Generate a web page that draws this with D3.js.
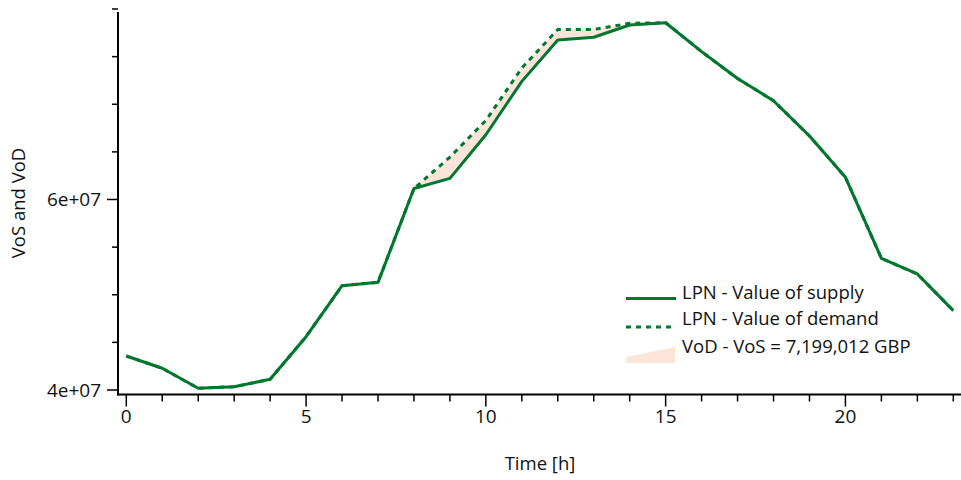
<!DOCTYPE html>
<html>
<head>
<meta charset="utf-8">
<script src="https://cdn.jsdelivr.net/npm/d3@7"></script>
<style>
  html, body { margin: 0; padding: 0; background: #fff; }
  svg { display: block; font-family: "Open Sans", "Noto Sans", sans-serif; }
</style>
</head>
<body>
<svg id="chart" width="961" height="480"></svg>
<script>
// Hourly values (GBP) for the LPN network
const hours = d3.range(0, 24);
const valueOfSupply = [
  43570000, 42280000, 40180000, 40350000, 41120000, 45600000,
  50950000, 51300000, 61150000, 62220000, 66800000, 72400000,
  76750000, 77030000, 78320000, 78560000, 75520000, 72700000,
  70370000, 66670000, 62330000, 53830000, 52180000, 48330000
];
const valueOfDemand = [
  43570000, 42280000, 40180000, 40350000, 41120000, 45600000,
  50950000, 51300000, 61150000, 64450000, 68300000, 73800000,
  77850000, 77850000, 78500000, 78560000, 75520000, 72700000,
  70370000, 66670000, 62330000, 53830000, 52180000, 48330000
];
const yTickValues = [40000000, 60000000];
const xTickValues = [0, 5, 10, 15, 20];
const legendLabels = [
  "LPN - Value of supply",
  "LPN - Value of demand",
  "VoD - VoS = 7,199,012 GBP"
];
const xTitle = "Time [h]";
const yTitle = "VoS and VoD";

const green = "#00772f";
const fillColor = "#fde4d8";

const svg = d3.select("#chart");

const x = d3.scaleLinear().domain([0, 23]).range([126.3, 953.3]);
const y = d3.scaleLinear().domain([40000000, 60000000]).range([390, 199.5]);

const axisLeft = 118, axisBottom = 394.5, axisTop = 12, axisRight = 961;

const supply = hours.map((h, i) => ({ h, v: valueOfSupply[i] }));
const demand = hours.map((h, i) => ({ h, v: valueOfDemand[i] }));

// Shaded gap between demand and supply
const gap = hours.map((h, i) => ({ h, lo: valueOfSupply[i], hi: valueOfDemand[i] }));
svg.append("path")
  .datum(gap)
  .attr("fill", fillColor)
  .attr("d", d3.area().x(d => x(d.h)).y0(d => y(d.lo)).y1(d => y(d.hi)));

const line = d3.line().x(d => x(d.h)).y(d => y(d.v));

svg.append("path")
  .datum(demand)
  .attr("fill", "none")
  .attr("stroke", green)
  .attr("stroke-width", 3)
  .attr("stroke-dasharray", "5,5")
  .attr("d", line);

svg.append("path")
  .datum(supply)
  .attr("fill", "none")
  .attr("stroke", green)
  .attr("stroke-width", 3)
  .attr("stroke-linejoin", "round")
  .attr("d", line);

// Axes
const axes = svg.append("g").attr("stroke", "#000").attr("stroke-width", 2);
axes.append("line").attr("x1", axisLeft).attr("x2", axisLeft).attr("y1", axisTop).attr("y2", axisBottom + 1);
axes.append("line").attr("x1", axisLeft - 1).attr("x2", axisRight).attr("y1", axisBottom).attr("y2", axisBottom);

// y ticks: minor every 5e6, labelled every 2e7
const yMinor = d3.range(40000000, 80000001, 5000000);
axes.selectAll(".ym").data(yMinor).enter().append("line")
  .attr("x1", d => yTickValues.includes(d) ? axisLeft - 11 : axisLeft - 6)
  .attr("x2", axisLeft)
  .attr("y1", d => y(d)).attr("y2", d => y(d))
  .attr("stroke-width", 1.5);

// x ticks: minor every hour, labelled every 5
axes.selectAll(".xm").data(hours).enter().append("line")
  .attr("x1", d => x(d)).attr("x2", d => x(d))
  .attr("y1", axisBottom)
  .attr("y2", d => xTickValues.includes(d) ? axisBottom + 12 : axisBottom + 7)
  .attr("stroke-width", 1.5);

const fmt = v => {
  const e = Math.floor(Math.log10(v));
  const m = v / Math.pow(10, e);
  return `${m}e+${String(e).padStart(2, "0")}`;
};

svg.selectAll(".yl").data(yTickValues).enter().append("text")
  .attr("x", axisLeft - 17).attr("y", d => y(d))
  .attr("dy", "0.35em")
  .attr("text-anchor", "end")
  .attr("font-size", 19)
  .attr("fill", "#111")
  .text(fmt);

svg.selectAll(".xl").data(xTickValues).enter().append("text")
  .attr("x", d => x(d)).attr("y", 423)
  .attr("text-anchor", "middle")
  .attr("font-size", 19)
  .attr("fill", "#111")
  .text(d => d);

svg.append("text")
  .attr("x", 540).attr("y", 470)
  .attr("text-anchor", "middle")
  .attr("font-size", 18.5)
  .attr("fill", "#111")
  .text(xTitle);

svg.append("text")
  .attr("transform", "translate(25,203) rotate(-90)")
  .attr("text-anchor", "middle")
  .attr("font-size", 18.5)
  .attr("fill", "#111")
  .text(yTitle);

// Legend
const lg = svg.append("g");
const lx0 = 626, lx1 = 676, tx = 682;
const rowY = [298.5, 327, 353];
const textY = [298.5, 325, 352.5];
lg.append("line").attr("x1", lx0).attr("x2", lx1).attr("y1", rowY[0]).attr("y2", rowY[0])
  .attr("stroke", green).attr("stroke-width", 3);
lg.append("line").attr("x1", lx0).attr("x2", lx1).attr("y1", rowY[1]).attr("y2", rowY[1])
  .attr("stroke", green).attr("stroke-width", 3).attr("stroke-dasharray", "5,5");
lg.append("path")
  .attr("d", `M${lx0},357 L${lx1 - 1},347 L${lx1 - 1},363 L${lx0},363 Z`)
  .attr("fill", fillColor);
lg.selectAll("text").data(legendLabels).enter().append("text")
  .attr("x", tx).attr("y", (d, i) => textY[i])
  .attr("font-size", 18.5)
  .attr("fill", "#111")
  .text(d => d);
</script>
</body>
</html>
